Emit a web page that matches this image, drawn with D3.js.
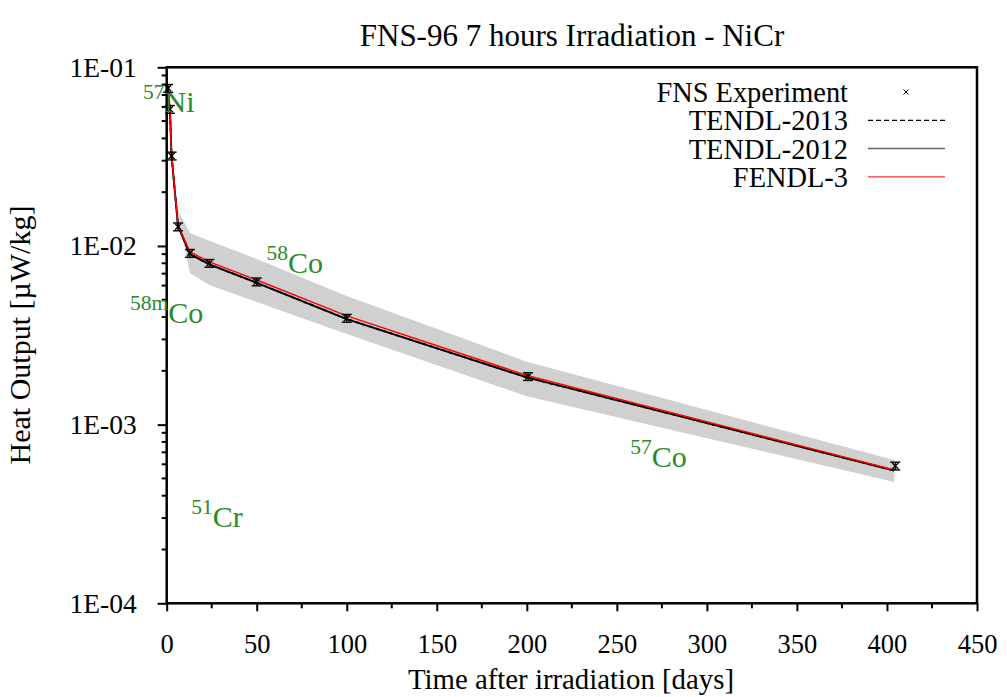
<!DOCTYPE html>
<html><head><meta charset="utf-8">
<script src="https://cdn.jsdelivr.net/npm/d3@7"></script>
<style>body{margin:0;background:#fff;} svg{display:block;}</style>
</head><body>
<svg id="chart" width="1007" height="697"></svg>
<script>
// ---- data ----
const expTimes = [0.8, 1.8, 2.7, 6.3, 12.9, 23.7, 50, 100, 200.7, 404.6];
const expValues = [0.0763, 0.0582, 0.0319, 0.0128, 0.0091, 0.0080, 0.0063, 0.00394, 0.00186, 0.000587];
const expErrFrac = 0.05;
const calcTimes = [0.3, 1.8, 2.7, 6.3, 12.9, 23.7, 50, 100, 200, 404];
const fendl3 = [0.0796, 0.0584, 0.0323, 0.01311, 0.00926, 0.00814, 0.00645, 0.00406, 0.001885, 0.000558];
const tendl2012 = [0.0786, 0.0577, 0.0319, 0.01294, 0.00902, 0.00788, 0.00622, 0.00390, 0.001837, 0.000554];
const tendl2013 = [0.0786, 0.0577, 0.0319, 0.01294, 0.00902, 0.00788, 0.00622, 0.00390, 0.001837, 0.000554];
const bandTimes = [5.3, 12.9, 23.7, 50, 100, 200, 404];
const bandHigh = [0.0165, 0.0118, 0.0107, 0.00846, 0.00525, 0.00225, 0.000634];
const bandLow = [0.0165, 0.00706, 0.00605, 0.00486, 0.00322, 0.00144, 0.000478];
const xTicks = [0, 50, 100, 150, 200, 250, 300, 350, 400, 450];
const yTicks = [1e-4, 1e-3, 1e-2, 1e-1];
const yTickLabels = ["1E-04", "1E-03", "1E-02", "1E-01"];
const isotopes = [
  {sup: "57", name: "Ni", t: -13.1, v: 0.0564},
  {sup: "58", name: "Co", t: 55.4, v: 0.00703},
  {sup: "58m", name: "Co", t: -20.4, v: 0.00369},
  {sup: "57", name: "Co", t: 257.4, v: 0.000582},
  {sup: "51", name: "Cr", t: 13.7, v: 0.000269}
];
const legendItems = ["FNS Experiment", "TENDL-2013", "TENDL-2012", "FENDL-3"];
const titleText = "FNS-96 7 hours Irradiation - NiCr";
const xLabel = "Time after irradiation [days]";
const yLabel = "Heat Output [\u00b5W/kg]";

// ---- layout ----
const L = 166.7, R = 977, T = 67.3, B = 603.3;
const font = "Liberation Serif, Times New Roman, serif";
const green = "#2b8a2b";
const svg = d3.select("#chart");
const x = d3.scaleLinear().domain([0, 450]).range([L, R]);
const y = d3.scaleLog().domain([1e-4, 1e-1]).range([B, T]);

// band
const bandData = bandTimes.map((t, i) => ({t, lo: bandLow[i], hi: bandHigh[i]}));
svg.append("path").datum(bandData)
  .attr("d", d3.area().x(d => x(d.t)).y0(d => y(d.lo)).y1(d => y(d.hi)))
  .attr("fill", "#d0d0d0");

// lines
const line = d3.line().x(d => x(d[0])).y(d => y(d[1]));
const mk = arr => calcTimes.map((t, i) => [t, arr[i]]);
svg.append("path").datum(mk(tendl2013)).attr("d", line).attr("fill", "none")
  .attr("stroke", "#000").attr("stroke-width", 1.8).attr("stroke-dasharray", "4,3");
svg.append("path").datum(mk(tendl2012)).attr("d", line).attr("fill", "none")
  .attr("stroke", "#000").attr("stroke-width", 1.9);
svg.append("path").datum(mk(fendl3)).attr("d", line).attr("fill", "none")
  .attr("stroke", "#ff0000").attr("stroke-width", 1.5);

// experiment
const eg = svg.append("g").attr("stroke", "#000").attr("stroke-width", 1.4);
expTimes.forEach((t, i) => {
  const v = expValues[i], cx = x(t), cy = y(v);
  const y1 = y(v * (1 + expErrFrac)), y2 = y(v * (1 - expErrFrac));
  eg.append("line").attr("x1", cx).attr("x2", cx).attr("y1", y1).attr("y2", y2);
  eg.append("line").attr("x1", cx - 5).attr("x2", cx + 5).attr("y1", y1).attr("y2", y1);
  eg.append("line").attr("x1", cx - 5).attr("x2", cx + 5).attr("y1", y2).attr("y2", y2);
  eg.append("line").attr("x1", cx - 3).attr("x2", cx + 3).attr("y1", cy - 3).attr("y2", cy + 3);
  eg.append("line").attr("x1", cx - 3).attr("x2", cx + 3).attr("y1", cy + 3).attr("y2", cy - 3);
});

// axes
const xAxis = d3.axisBottom(x).tickValues(xTicks).tickSize(8).tickPadding(23).tickFormat(d3.format("d"));
const gx = svg.append("g").attr("transform", `translate(0,${B})`).call(xAxis);
gx.select(".domain").remove();
gx.selectAll("line").attr("stroke", "#000").attr("stroke-width", 2);
gx.selectAll("text").attr("font-family", font).attr("font-size", 26.5).attr("fill", "#000");
const xMinor = d3.range(25, 450, 50);
svg.append("g").selectAll("line").data(xMinor).join("line")
  .attr("x1", d => x(d)).attr("x2", d => x(d)).attr("y1", B).attr("y2", B + 5)
  .attr("stroke", "#000").attr("stroke-width", 2);

const yAxis = d3.axisLeft(y).tickValues(yTicks).tickSize(9).tickPadding(21)
  .tickFormat((d, i) => yTickLabels[i]);
const gy = svg.append("g").attr("transform", `translate(${L},0)`).call(yAxis);
gy.select(".domain").remove();
gy.selectAll("line").attr("stroke", "#000").attr("stroke-width", 2);
gy.selectAll("text").attr("font-family", font).attr("font-size", 27.5).attr("fill", "#000");
const yMinor = [];
[1e-4, 1e-3, 1e-2].forEach(dec => { for (let k = 2; k <= 9; k++) yMinor.push(dec * k); });
svg.append("g").selectAll("line").data(yMinor).join("line")
  .attr("x1", L - 5).attr("x2", L + 1).attr("y1", d => y(d)).attr("y2", d => y(d))
  .attr("stroke", "#000").attr("stroke-width", 2);

// frame
svg.append("rect").attr("x", L).attr("y", T).attr("width", R - L).attr("height", B - T)
  .attr("fill", "none").attr("stroke", "#000").attr("stroke-width", 2.5);

// isotope labels
isotopes.forEach(d => {
  const t = svg.append("text").attr("x", x(d.t)).attr("y", y(d.v))
    .attr("font-family", font).attr("fill", green);
  t.append("tspan").attr("font-size", 21.5).attr("dy", -13).text(d.sup);
  t.append("tspan").attr("font-size", 30).attr("dy", 13).text(d.name);
});

// legend
const lgX = 848, lgY0 = 92, lgDy = 28.3;
legendItems.forEach((name, i) => {
  const yy = lgY0 + i * lgDy;
  svg.append("text").attr("x", lgX).attr("y", yy).attr("dy", "0.35em").attr("text-anchor", "end")
    .attr("font-family", font).attr("font-size", 28.4).attr("fill", "#000").text(name);
});
{
  const cx = 906, cy = lgY0;
  svg.append("line").attr("x1", cx - 2.5).attr("x2", cx + 2.5).attr("y1", cy - 2.5).attr("y2", cy + 2.5).attr("stroke", "#000").attr("stroke-width", 1);
  svg.append("line").attr("x1", cx - 2.5).attr("x2", cx + 2.5).attr("y1", cy + 2.5).attr("y2", cy - 2.5).attr("stroke", "#000").attr("stroke-width", 1);
  svg.append("line").attr("x1", 868).attr("x2", 945).attr("y1", lgY0 + lgDy).attr("y2", lgY0 + lgDy)
    .attr("stroke", "#000").attr("stroke-width", 1.2).attr("stroke-dasharray", "5,3");
  svg.append("line").attr("x1", 868).attr("x2", 945).attr("y1", lgY0 + 2 * lgDy).attr("y2", lgY0 + 2 * lgDy)
    .attr("stroke", "#666").attr("stroke-width", 1.5);
  svg.append("line").attr("x1", 868).attr("x2", 945).attr("y1", lgY0 + 3 * lgDy).attr("y2", lgY0 + 3 * lgDy)
    .attr("stroke", "#ff0000").attr("stroke-width", 1);
}

// titles
svg.append("text").attr("x", 572).attr("y", 46).attr("text-anchor", "middle")
  .attr("font-family", font).attr("font-size", 31).attr("fill", "#000").text(titleText);
svg.append("text").attr("x", 571).attr("y", 689).attr("text-anchor", "middle")
  .attr("font-family", font).attr("font-size", 28.8).attr("fill", "#000").text(xLabel);
svg.append("text").attr("transform", "translate(30,335) rotate(-90)").attr("text-anchor", "middle")
  .attr("font-family", font).attr("font-size", 30).attr("fill", "#000").text(yLabel);
</script>
</body></html>
